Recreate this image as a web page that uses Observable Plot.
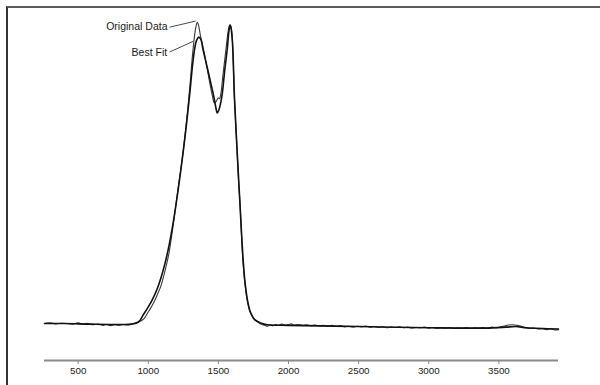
<!DOCTYPE html>
<html>
<head>
<meta charset="utf-8">
<script src="https://cdn.jsdelivr.net/npm/d3@7"></script>
<script src="https://cdn.jsdelivr.net/npm/@observablehq/plot@0.6"></script>
<style>
  html, body { margin: 0; padding: 0; background: #fff; }
  #wrap { position: absolute; left: 6px; top: 6px; width: 592px; height: 377px;
          border-top: 2px solid #5c5c5c; border-left: 2px solid #333; }
  svg { display: block; }
</style>
</head>
<body>
<div id="wrap"></div>
<script>
// Original Data (wavenumber, intensity)
const origX = [260,300,340,380,420,460,500,540,560,600,640,680,700,730,760,790,820,850,880,900,920,945,970,993,1016,1040,1064,1087,1117,1147,1182,1214,1247,1273,1296,1314,1330,1340,1349,1358,1372,1396,1420,1444,1460,1470,1480,1490,1500,1508,1518,1530,1539,1555,1568,1578,1585,1592,1600,1615,1630,1645,1653,1662,1670,1685,1706,1725,1753,1780,1801,1830,1850,1870,1890,1910,1930,1950,1975,2000,2020,2040,2070,2100,2130,2160,2190,2220,2250,2280,2310,2340,2370,2400,2430,2460,2490,2520,2550,2580,2610,2640,2670,2700,2730,2760,2790,2820,2850,2880,2910,2940,2970,3000,3030,3060,3090,3120,3150,3180,3210,3240,3270,3300,3330,3360,3390,3420,3450,3480,3510,3540,3570,3600,3630,3660,3690,3720,3750,3780,3810,3840,3870,3900,3925];
const origY = [0.000,0.002,-0.001,0.001,0.000,-0.002,0.002,-0.003,0.001,-0.004,-0.002,-0.006,-0.003,-0.007,-0.004,-0.006,-0.003,-0.005,-0.002,0.000,0.003,0.008,0.016,0.033,0.050,0.070,0.095,0.120,0.170,0.231,0.340,0.450,0.561,0.670,0.780,0.880,0.950,0.980,0.994,0.985,0.950,0.900,0.840,0.780,0.745,0.728,0.730,0.738,0.745,0.742,0.760,0.810,0.846,0.910,0.960,0.982,0.985,0.975,0.930,0.736,0.600,0.460,0.406,0.320,0.241,0.150,0.076,0.040,0.0165,0.006,-0.002,-0.006,-0.009,-0.004,-0.007,-0.003,-0.006,-0.002,-0.005,-0.003,-0.001,-0.005,-0.003,-0.006,-0.004,-0.007,-0.005,-0.008,-0.006,-0.009,-0.006,-0.010,-0.007,-0.011,-0.009,-0.012,-0.009,-0.011,-0.008,-0.012,-0.010,-0.013,-0.011,-0.014,-0.012,-0.013,-0.011,-0.014,-0.012,-0.015,-0.013,-0.014,-0.012,-0.015,-0.013,-0.016,-0.014,-0.015,-0.013,-0.016,-0.014,-0.015,-0.013,-0.016,-0.014,-0.015,-0.013,-0.016,-0.012,-0.014,-0.011,-0.008,-0.005,-0.004,-0.006,-0.009,-0.014,-0.016,-0.015,-0.018,-0.017,-0.020,-0.018,-0.021,-0.020];

// Best Fit
const fitX = [260,400,600,800,880,930,966,1000,1030,1064,1090,1120,1150,1182,1214,1247,1273,1296,1315,1330,1345,1360,1375,1390,1420,1445,1468,1482,1492,1502,1515,1528,1545,1563,1575,1583,1590,1600,1615,1630,1645,1660,1675,1690,1710,1730,1760,1800,1850,2000,2500,3000,3400,3550,3620,3700,3925];
const fitY = [0.000,0.000,-0.002,-0.003,-0.002,0.005,0.030,0.055,0.080,0.115,0.150,0.200,0.262,0.345,0.445,0.560,0.660,0.760,0.850,0.905,0.935,0.945,0.938,0.905,0.846,0.795,0.747,0.712,0.695,0.703,0.725,0.760,0.835,0.905,0.965,0.985,0.975,0.930,0.740,0.600,0.470,0.340,0.220,0.135,0.070,0.035,0.012,0.002,-0.004,-0.006,-0.010,-0.014,-0.015,-0.012,-0.010,-0.014,-0.018];

const xTicks = [500,1000,1500,2000,2500,3000,3500];

// Annotation labels with leader lines
const labelText = ["Original Data", "Best Fit"];
const labelX = [1144, 1142];
const labelY = [0.980, 0.894];
const leaderX1 = [1152, 1152];
const leaderY1 = [0.978, 0.896];
const leaderX2 = [1337, 1319];
const leaderY2 = [0.998, 0.931];

const orig = origX.map((x, i) => ({x, y: origY[i]}));
const fit = fitX.map((x, i) => ({x, y: fitY[i]}));
const labels = labelText.map((t, i) => ({t, x: labelX[i], y: labelY[i], x1: leaderX1[i], y1: leaderY1[i], x2: leaderX2[i], y2: leaderY2[i]}));

const yMin = -0.122;
const chart = Plot.plot({
  width: 592,
  height: 377,
  marginLeft: 36,
  marginRight: 42,
  marginTop: 12,
  marginBottom: 25,
  style: {fontFamily: "'Liberation Sans', Arial, sans-serif", background: "#fff"},
  x: {domain: [260, 3925]},
  y: {domain: [yMin, 1], axis: null},
  marks: [
    Plot.ruleY([yMin], {stroke: "#8a8a8a", strokeWidth: 1.8}),
    Plot.axisX({ticks: xTicks, tickSize: 4, tickPadding: 3, stroke: "#8a8a8a", fill: "#222", fontSize: 9.8, tickFormat: d => String(d), label: null}),
    Plot.line(orig, {x: "x", y: "y", stroke: "#3a3a3a", strokeWidth: 1.1, curve: "catmull-rom"}),
    Plot.line(fit, {x: "x", y: "y", stroke: "#111", strokeWidth: 1.6, curve: "catmull-rom"}),
    Plot.link(labels, {x1: "x1", y1: "y1", x2: "x2", y2: "y2", stroke: "#333", strokeWidth: 0.9}),
    Plot.text(labels, {x: "x", y: "y", text: "t", textAnchor: "end", fontSize: 10.5, fill: "#1a1a1a", dx: -1})
  ]
});
document.getElementById("wrap").appendChild(chart);
</script>
</body>
</html>
